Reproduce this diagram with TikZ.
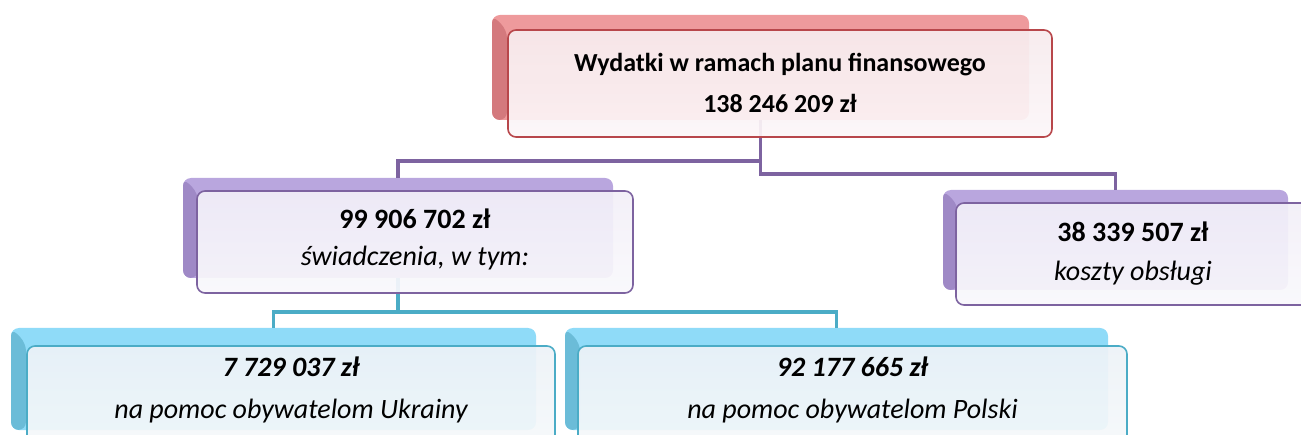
\documentclass[tikz,border=0pt]{standalone}
\usepackage{fontspec}
\setmainfont{Carlito}
\definecolor{rBack}{HTML}{EE9A9C}
\definecolor{rBevel}{HTML}{D4797D}
\definecolor{rLine}{HTML}{B8474B}
\definecolor{rTop}{HTML}{F7EBED}
\definecolor{rBot}{HTML}{FCF6F8}
\definecolor{pBack}{HTML}{B9A6DE}
\definecolor{pBevel}{HTML}{9F89C6}
\definecolor{pLine}{HTML}{7D63A0}
\definecolor{pTop}{HTML}{F2EFF8}
\definecolor{pBot}{HTML}{F9F8FC}
\definecolor{bBack}{HTML}{8FDBF8}
\definecolor{bBevel}{HTML}{6BBCD8}
\definecolor{bLine}{HTML}{4BACC6}
\definecolor{bTop}{HTML}{EDF2F7}
\definecolor{bBot}{HTML}{F5F8FB}
\tikzset{
  backbox/.style n args={2}{draw=none, rounded corners=8pt, inner sep=0pt,
    minimum width=#1, minimum height=#2},
  backR/.style={fill=rBack, path picture={\fill[rBevel]
     (path picture bounding box.north west) -- ++(15,15) -- ([xshift=15pt]path picture bounding box.south west) -- (path picture bounding box.south west) -- cycle;}},
  backP/.style={fill=pBack, path picture={\fill[pBevel]
     (path picture bounding box.north west) -- ++(15,15) -- ([xshift=15pt]path picture bounding box.south west) -- (path picture bounding box.south west) -- cycle;}},
  backB/.style={fill=bBack, path picture={\fill[bBevel]
     (path picture bounding box.north west) -- ++(15,15) -- ([xshift=15pt]path picture bounding box.south west) -- (path picture bounding box.south west) -- cycle;}},
  frontbox/.style n args={2}{rounded corners=8pt, inner sep=0pt, line width=1.6pt,
    minimum width=#1, minimum height=#2, fill opacity=0.93},
  frontR/.style={draw=rLine, top color=rTop, bottom color=rBot},
  frontP/.style={draw=pLine, top color=pTop, bottom color=pBot},
  frontB/.style={draw=bLine, top color=bTop, bottom color=bBot},
  pconn/.style={draw=pLine, line width=3.6pt},
  cconn/.style={draw=bLine, line width=3.6pt},
  txt/.style={anchor=base, inner sep=0pt, font=\fontsize{28}{32}\selectfont},
  txttop/.style={anchor=base, inner sep=0pt, font=\fontsize{26}{30}\selectfont},
}
\begin{document}
\begin{tikzpicture}[x=1pt,y=-1pt]
\useasboundingbox (0,0) rectangle (1301,435);
% back boxes
\node[backbox={537pt}{105pt}, backR] (topback) at (760.5,67.5) {};
\node[backbox={430pt}{100pt}, backP] (mLback) at (398,228) {};
\node[backbox={345pt}{100pt}, backP] (mRback) at (1115.5,240) {};
\node[backbox={525pt}{102pt}, backB] (bLback) at (273.5,379) {};
\node[backbox={543pt}{102pt}, backB] (bRback) at (836.5,379) {};
% connectors
\coordinate (j1) at (0,161);
\coordinate (j2) at (0,174);
\coordinate (j3) at (0,312);
\draw[pconn] (mLback.north) |- (topback.south |- j1);
\draw[pconn] (topback.south) -- (topback.south |- j2) -| (mRback.north);
\draw[cconn] (mLback.south) -- (mLback.south |- j3) -| (bLback.north);
\draw[cconn] (mLback.south |- j3) -| (bRback.north);
% front boxes
\node[frontbox={544pt}{107pt}, frontR] (topfront) at (780,83.5) {};
\node[frontbox={436pt}{102pt}, frontP] (mLfront) at (415,242) {};
\node[frontbox={354pt}{102pt}, frontP] (mRfront) at (1133,254) {};
\node[frontbox={528pt}{102pt}, frontB] (bLfront) at (291,397) {};
\node[frontbox={549pt}{102pt}, frontB] (bRfront) at (852.5,397) {};
% texts
\node[txttop] (t1a) at (780,72) {\bfseries Wydatki w ramach planu finansowego};
\node[txttop] (t1b) at (780,113) {\bfseries 138 246 209 zł};
\node[txt] (t2a) at (415,229) {\bfseries 99 906 702 zł};
\node[txt] (t2b) at (415,266) {\itshape świadczenia, w tym:};
\node[txt] (t3a) at (1133,242) {\bfseries 38 339 507 zł};
\node[txt] (t3b) at (1133,281) {\itshape koszty obsługi};
\node[txt] (t4a) at (291,377) {\bfseries\itshape 7 729 037 zł};
\node[txt] (t4b) at (291,418) {\itshape na pomoc obywatelom Ukrainy};
\node[txt] (t5a) at (852.5,377) {\bfseries\itshape 92 177 665 zł};
\node[txt] (t5b) at (852.5,418) {\itshape na pomoc obywatelom Polski};
\end{tikzpicture}
\end{document}
